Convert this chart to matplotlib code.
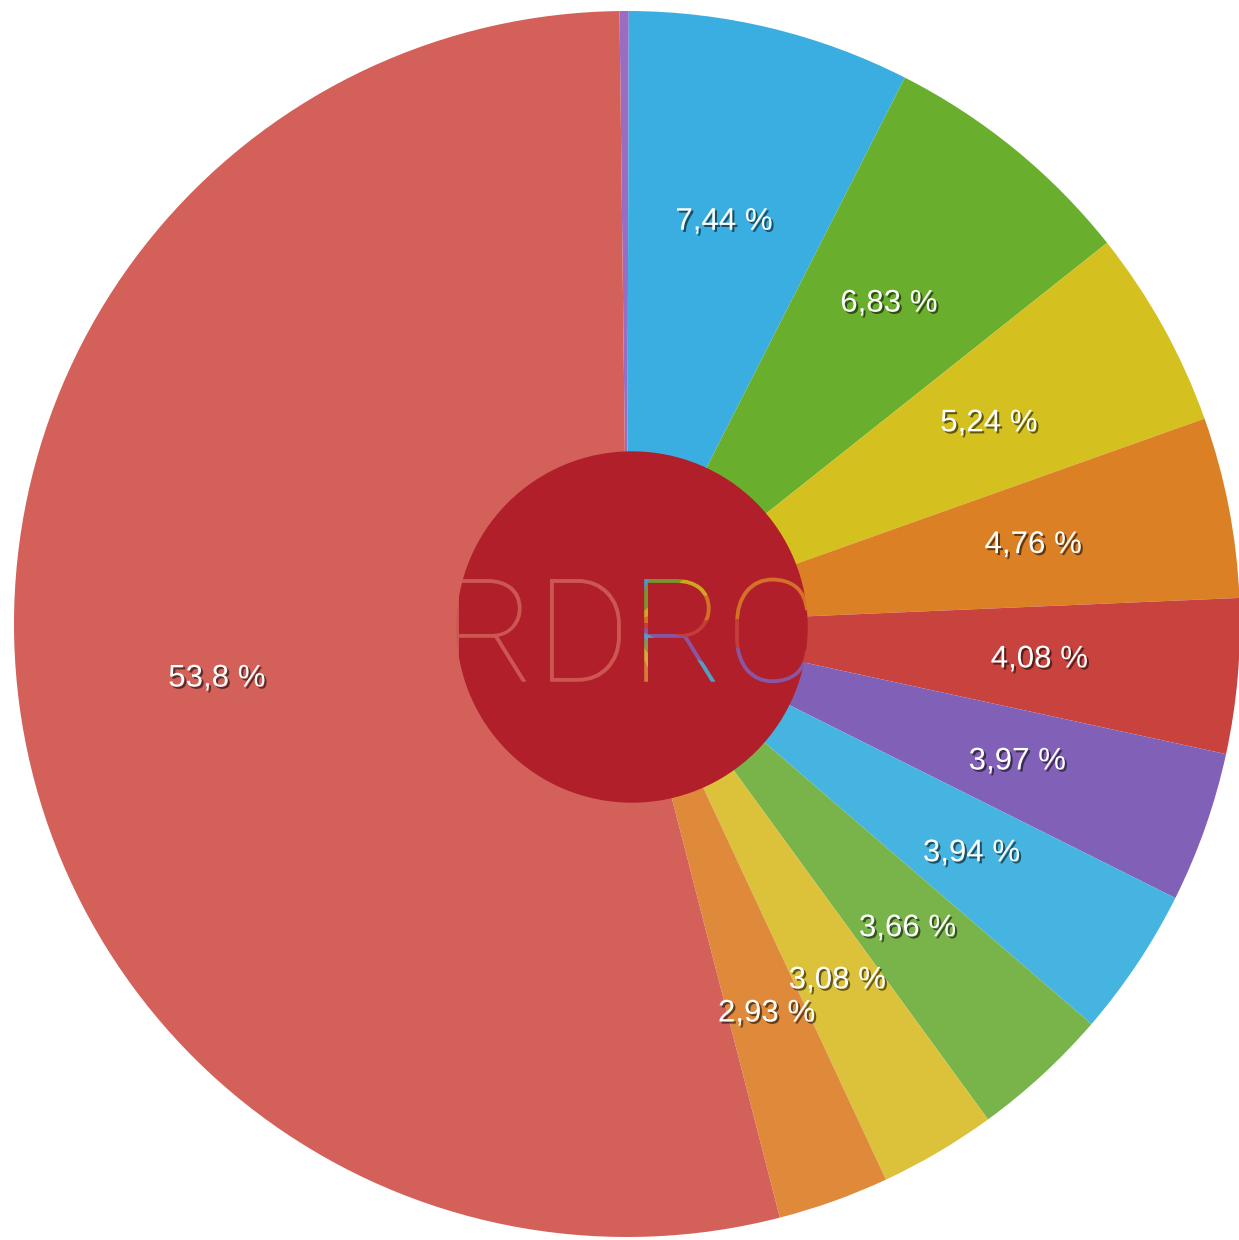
import matplotlib.pyplot as plt
import matplotlib.patheffects as pe
from matplotlib.patches import Circle

# data (percent), clockwise from 12 o'clock
labels = ['', '7,44 %', '6,83 %', '5,24 %', '4,76 %', '4,08 %', '3,97 %',
          '3,94 %', '3,66 %', '3,08 %', '2,93 %', '53,8 %']
values = [0.24, 7.44, 6.83, 5.24, 4.76, 4.08, 3.97, 3.94, 3.66, 3.08, 2.93, 53.8]
colors = ['#9a6cc2', '#3aaee0', '#6aae2e', '#d4c01e', '#dc8026', '#c8433d',
          '#8160b8', '#45b4e0', '#79b44b', '#dcc13a', '#df8a3b', '#d3615a']

fig = plt.figure(figsize=(12.39, 12.40), dpi=100)
ax = fig.add_axes([0, 0, 1, 1])

cx, cy, r = 627, 1240 - 624, 613

wedges, texts = ax.pie(values, labels=labels, colors=colors, startangle=90.7,
                       counterclock=False, center=(cx, cy), radius=r,
                       labeldistance=0.675, frame=True,
                       wedgeprops=dict(linewidth=0),
                       textprops=dict(color='white', fontsize=22.5,
                                      family='Liberation Sans',
                                      ha='center', va='center'))
for t in texts:
    t.set_path_effects([pe.withSimplePatchShadow(offset=(1.5, -1.5),
                                                 shadow_rgbFace='black',
                                                 alpha=0.55)])
ax.set_xlim(0, 1239)
ax.set_ylim(0, 1240)
ax.set_aspect('equal')
ax.axis('off')

# logo in the middle; the letters show the slice colours behind them
logo = Circle((632, 1240 - 627), 175, color='#b01f2a', zorder=5)
ax.add_patch(logo)
for w, c in zip(wedges, colors):
    t = ax.text(630, 1240 - 642, 'RDRC', fontsize=104, family='Roboto',
                fontweight=100, color=c, alpha=0.85, clip_on=True,
                ha='center', va='center', zorder=6)
    t.set_clip_path(w)
    # draw as path so the clip path is honoured
    t.set_path_effects([pe.Normal()])

fig.savefig('out.png', dpi=100)
